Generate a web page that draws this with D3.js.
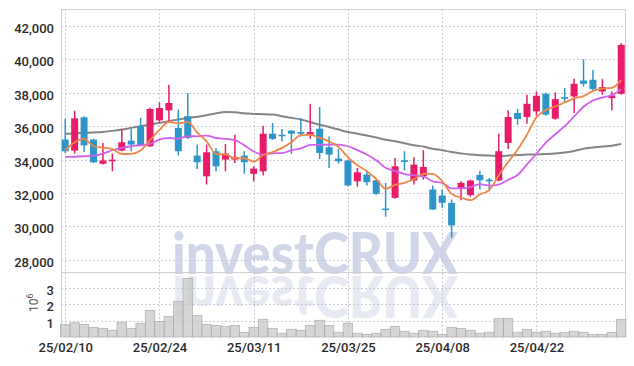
<!DOCTYPE html>
<html><head><meta charset="utf-8">
<script src="https://cdn.jsdelivr.net/npm/d3@7"></script>
<style>
html,body{margin:0;padding:0;background:#fff;}
svg{display:block;}
</style></head>
<body>
<svg id="chart" width="634" height="366"></svg>
<script>
const dates = ["25/02/10","25/02/11","25/02/12","25/02/13","25/02/14","25/02/17","25/02/18","25/02/19","25/02/20","25/02/21",
"25/02/24","25/02/25","25/02/26","25/02/27","25/02/28","25/03/04","25/03/05","25/03/06","25/03/07","25/03/10",
"25/03/11","25/03/12","25/03/13","25/03/14","25/03/17","25/03/18","25/03/19","25/03/20","25/03/21","25/03/24",
"25/03/25","25/03/26","25/03/27","25/03/28","25/03/31","25/04/01","25/04/02","25/04/03","25/04/04","25/04/07",
"25/04/08","25/04/09","25/04/10","25/04/11","25/04/14","25/04/15","25/04/16","25/04/17","25/04/18","25/04/21",
"25/04/22","25/04/23","25/04/24","25/04/25","25/04/28","25/04/29","25/04/30","25/05/02","25/05/07","25/05/08"];
const opens  = [35200,34540,36530,35200,33750,33900,34540,35135,36000,34800,36350,36950,35900,36600,34240,33000,34500,34000,34000,34240,
33150,33300,35550,35490,35730,35650,35490,35850,34740,34060,33940,32700,33100,32760,31070,31710,33960,32750,33000,32210,
31850,31410,32310,31870,33080,32800,32750,35000,36790,36550,36890,37940,36450,37740,37780,38740,38780,38080,37680,37940];
const highs  = [36450,36930,36600,35250,35000,34360,35830,35830,36500,37100,37420,38480,37000,37980,34900,34900,34700,34940,35490,34500,
33600,36030,36190,35830,35760,36490,37340,37150,35390,34640,34000,33500,33360,32800,32600,34100,34500,34140,34560,32450,
32210,31610,32700,32800,33340,32900,35550,36950,37030,37880,38080,38000,38020,38280,38840,40010,39370,38820,38080,40970];
const lows   = [34400,34360,34450,33800,33700,33300,34500,34500,34800,34750,36200,36200,34240,35240,33440,32510,33300,33300,33800,33160,
32700,33050,35180,35100,34340,35390,35240,34040,33500,33760,32400,32370,32450,31900,30580,31650,33360,32510,32800,31000,
31110,29320,31570,31770,32210,32110,32700,34640,36090,36150,36630,36630,36390,37390,36790,38380,38140,37880,36950,37880];
const closes = [34500,36470,34850,33840,33950,34000,35040,34900,34850,37030,37090,37390,34500,35300,33840,34440,33600,34360,34160,33840,
33460,35550,35240,35410,35550,35550,35650,34400,34300,33900,32450,33240,32650,31950,31000,33600,33860,33700,33560,31010,
31410,30060,32610,32750,32760,32700,34500,36550,36430,37340,37820,36690,37620,37640,38540,38540,38220,38340,37840,40870];
const volumes = [0.77,0.87,0.77,0.59,0.53,0.41,0.90,0.53,0.84,1.63,0.94,1.26,2.18,3.58,1.32,0.77,0.71,0.65,0.71,0.29,
0.59,1.08,0.53,0.23,0.47,0.41,0.71,1.02,0.71,0.29,0.84,0.23,0.16,0.23,0.47,0.65,0.35,0.23,0.41,0.35,
0.16,0.59,0.53,0.41,0.23,0.29,1.14,1.14,0.29,0.47,0.29,0.35,0.23,0.29,0.35,0.29,0.16,0.16,0.29,1.08];
const ma5 = [34560,35040,35240,34800,34722,34622,34336,34346,34548,35164,35782,36252,36172,36262,35624,35094,34336,34308,34080,34080,
33884,34274,34450,34700,35042,35460,35480,35312,35090,34760,34140,33658,33308,32838,32258,32488,32612,32822,33144,33146,
32708,31948,31730,31568,31918,32176,33064,33852,34588,35504,36528,36966,37180,37422,37662,37806,38112,38256,38296,38762];
const ma10 = [34160,34170,34200,34240,34360,34560,34700,34800,34860,34943,35202,35294,35259,35405,35394,35438,35294,35240,35171,34852,
34489,34305,34379,34390,34561,34672,34877,34881,34895,34901,34800,34569,34310,33964,33509,33314,33135,33065,32991,32702,
32598,32280,32276,32356,32532,32442,32506,32791,33078,33711,34352,35015,35516,36005,36583,37167,37539,37718,37859,38212];
const maLong = [35550,35570,35600,35630,35660,35720,35800,35900,36000,36100,36200,36300,36400,36500,36570,36650,36770,36850,36830,36780,
36730,36720,36700,36600,36500,36400,36250,36090,35950,35800,35650,35550,35440,35320,35190,35100,34980,34860,34780,34650,
34560,34450,34370,34300,34260,34240,34220,34240,34270,34300,34310,34330,34360,34420,34520,34650,34720,34780,34830,34930];
const priceTicks = [28000,30000,32000,34000,36000,38000,40000,42000];
const volumeTicks = [1,2,3];
const dateTickIdx = [0,10,20,30,40,50];

const svg = d3.select("#chart");
const L = 61, R = 625, T = 9, PB = 272, VB = 337;
const x = d3.scaleLinear().domain([-0.45, 59.4]).range([L, R]);
const step = x(1) - x(0);
const y = d3.scaleLinear().domain([27270, 43018]).range([PB, T]);
const yv = d3.scaleLinear().domain([0, 4]).range([VB, 271.5]);
const idx = d3.range(dates.length);
const UP = "#e81c68", DOWN = "#2f95c9";
const labelFont = "Roboto, 'Liberation Sans', sans-serif";

// watermark with mirrored reflection (reflection reuses the same text node)
const wm = svg.append("g");
wm.append("text").attr("id", "wmText").attr("x", 172).attr("y", 274)
  .attr("textLength", 286).attr("lengthAdjust", "spacingAndGlyphs")
  .attr("font-family", "Lato, 'DejaVu Sans', sans-serif").attr("font-weight", 900)
  .attr("font-size", 57).attr("fill", "#d0d6e8").text("investCRUX");
wm.append("use").attr("href", "#wmText")
  .attr("transform", "translate(0,550) scale(1,-1)")
  .attr("opacity", 0.5);

// grid
const grid = svg.append("g").attr("stroke", "#c9cbd9").attr("stroke-width", 1).attr("stroke-dasharray", "2,2");
grid.selectAll(".hp").data(priceTicks).join("line")
  .attr("x1", L).attr("x2", R).attr("y1", d => Math.round(y(d)) + 0.5).attr("y2", d => Math.round(y(d)) + 0.5);
grid.selectAll(".hv").data(volumeTicks).join("line")
  .attr("x1", L).attr("x2", R).attr("y1", d => Math.round(yv(d)) + 0.5).attr("y2", d => Math.round(yv(d)) + 0.5);
grid.selectAll(".vx").data(dateTickIdx).join("line")
  .attr("y1", T).attr("y2", VB).attr("x1", d => Math.round(x(d)) + 0.5).attr("x2", d => Math.round(x(d)) + 0.5);

// frame
const frame = svg.append("g").attr("stroke", "#d0d0d0").attr("stroke-width", 1);
frame.append("line").attr("x1", L + 0.5).attr("x2", L + 0.5).attr("y1", T).attr("y2", VB);
frame.append("line").attr("x1", R + 0.5).attr("x2", R + 0.5).attr("y1", T).attr("y2", VB);
frame.append("line").attr("x1", L).attr("x2", R).attr("y1", T + 0.5).attr("y2", T + 0.5);
frame.append("line").attr("x1", L).attr("x2", R).attr("y1", PB + 0.5).attr("y2", PB + 0.5);

// volume bars
svg.append("g").selectAll("rect").data(idx).join("rect")
  .attr("x", i => x(i) - step / 2).attr("width", step)
  .attr("y", i => yv(volumes[i])).attr("height", i => VB - yv(volumes[i]))
  .attr("fill", "#c4c4c4").attr("fill-opacity", 0.7)
  .attr("stroke", "#a8a8a8").attr("stroke-opacity", 0.8).attr("stroke-width", 0.8);

// moving averages
const lineOf = arr => d3.line().x(i => x(i)).y(i => y(arr[i])).curve(d3.curveMonotoneX)(idx);
svg.append("path").attr("d", lineOf(maLong)).attr("fill", "none").attr("stroke", "#858585").attr("stroke-width", 2);

// candles
const cg = svg.append("g");
cg.selectAll("line").data(idx).join("line")
  .attr("x1", i => x(i)).attr("x2", i => x(i))
  .attr("y1", i => y(highs[i])).attr("y2", i => y(lows[i]))
  .attr("stroke", i => closes[i] >= opens[i] ? UP : DOWN).attr("stroke-width", 1.5);
cg.selectAll("rect").data(idx).join("rect")
  .attr("x", i => x(i) - 3.5).attr("width", 7)
  .attr("y", i => y(Math.max(opens[i], closes[i])))
  .attr("height", i => Math.max(1.5, Math.abs(y(opens[i]) - y(closes[i]))))
  .attr("fill", i => closes[i] >= opens[i] ? UP : DOWN);

svg.append("path").attr("d", lineOf(ma10)).attr("fill", "none").attr("stroke", "#d060ee").attr("stroke-width", 1.8);
svg.append("path").attr("d", lineOf(ma5)).attr("fill", "none").attr("stroke", "#ef8748").attr("stroke-width", 1.8);

// axes
const yAxis = svg.append("g").attr("transform", `translate(${L},0)`)
  .call(d3.axisLeft(y).tickValues(priceTicks).tickFormat(d3.format(",")).tickSize(0).tickPadding(7));
const vAxis = svg.append("g").attr("transform", `translate(${L},0)`)
  .call(d3.axisLeft(yv).tickValues(volumeTicks).tickFormat(d3.format("d")).tickSize(0).tickPadding(7));
const xAxis = svg.append("g").attr("transform", `translate(0,${VB})`)
  .call(d3.axisBottom(x).tickValues(dateTickIdx).tickFormat(i => dates[i]).tickSize(0).tickPadding(6));
[yAxis, vAxis, xAxis].forEach(a => {
  a.select(".domain").remove();
  a.selectAll("text").attr("font-family", labelFont).attr("font-size", 13)
    .attr("font-weight", 500).attr("fill", "#2b2b2b");
});
yAxis.selectAll("text").attr("dy", "0.5em");
vAxis.selectAll("text").attr("dy", "0.5em");

// volume unit label
const unit = svg.append("text").attr("transform", "translate(38,312) rotate(-90)")
  .attr("font-family", labelFont).attr("font-size", 12).attr("fill", "#555");
unit.append("tspan").text("10");
unit.append("tspan").attr("dy", -5).attr("font-size", 9).text("6");
</script>
</body></html>
